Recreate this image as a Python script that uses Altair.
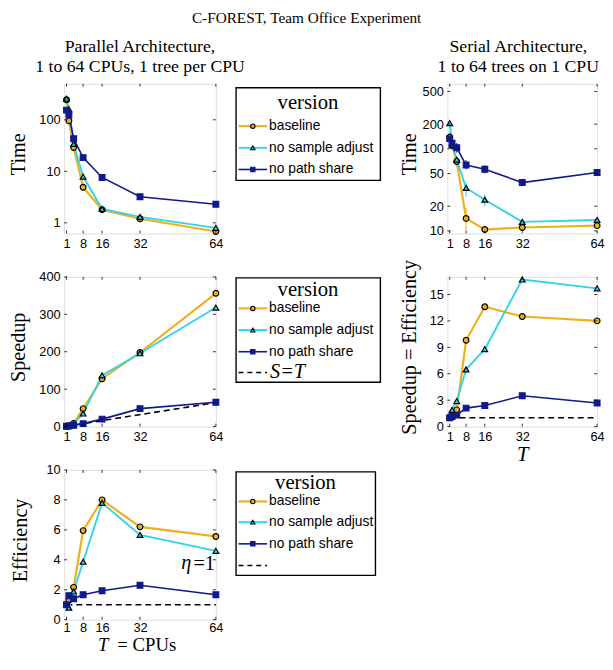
import altair as alt
import pandas as pd

SERIF = "Liberation Serif"
SANS = "Liberation Sans"

# ---------------- data ----------------
T = [1, 2, 4, 8, 16, 32, 64]
X_TICKS = [1, 8, 16, 32, 64]
SERIES = ["baseline", "no sample adjust", "no path share"]
COLORS = ["#EDB120", "#2FD4E6", "#10198C"]
EDGES = ["#000000", "#000000", "#10198C"]
SHAPES = ["circle", "triangle-up", "square"]
WIDTHS = [2.2, 1.6, 1.1]

# Parallel architecture: time
par_time_baseline = [245, 96, 29, 4.9, 1.8, 1.2, 0.68]
par_time_nsa = [257, 161, 34, 7.9, 1.86, 1.3, 0.8]
par_time_nps = [154, 124, 43, 18.4, 7.6, 3.2, 2.3]
par_lo_baseline = [220, 85, 24, 4.4, 1.7, 1.1, 0.64]
par_hi_baseline = [265, 108, 33, 5.5, 1.9, 1.3, 0.72]
par_lo_nsa = [230, 145, 28, 7.2, 1.7, 1.2, 0.75]
par_hi_nsa = [280, 180, 40, 8.8, 2.0, 1.4, 0.85]
par_lo_nps = [140, 110, 38, 16, 7.0, 2.9, 2.1]
par_hi_nps = [170, 140, 50, 21, 8.8, 3.6, 2.5]

# Serial architecture: time
ser_time_baseline = [139, 110, 70, 14.2, 10.4, 11.0, 11.6]
ser_time_nsa = [206, 112, 74, 33.4, 24, 12.9, 13.6]
ser_time_nps = [133, 117, 103, 63.5, 56.5, 38.8, 51.6]
ser_lo_baseline = [130, 95, 60, 10.3, 10.0, 10.5, 11.0]
ser_hi_baseline = [148, 120, 78, 19, 10.8, 11.5, 12.2]
ser_lo_nsa = [195, 100, 68, 26, 20, 12.3, 13.0]
ser_hi_nsa = [215, 125, 80, 39, 28, 13.5, 14.2]
ser_lo_nps = [120, 105, 90, 56, 50, 35, 48]
ser_hi_nps = [150, 130, 118, 73, 63, 43, 55]

# Speedup
par_speed_baseline = [1, 2.5, 8.7, 48, 128, 198, 356]
par_speed_nsa = [1, 1.6, 7.5, 35, 137, 196, 318]
par_speed_nps = [1, 1.3, 3.5, 8, 20, 48, 65]
ser_speed_baseline = [1, 1.3, 1.9, 9.8, 13.6, 12.5, 12.0]
ser_speed_nsa = [1, 1.9, 2.9, 6.5, 8.8, 16.7, 15.7]
ser_speed_nps = [1, 1.15, 1.3, 2.1, 2.4, 3.5, 2.67]

# Efficiency (parallel)
par_eff_baseline = [1.0, 1.3, 2.16, 5.95, 8.0, 6.2, 5.56]
par_eff_nsa = [1.0, 0.8, 1.88, 3.87, 7.8, 5.66, 4.6]
par_eff_nps = [1.0, 1.6, 1.4, 1.67, 1.93, 2.3, 1.67]

# reference lines
ideal_T = [1, 64]
ideal_speed = [1, 64]
ideal_unit = [1, 1]

W, H = 154, 152
WR = 152


def frame(values, lows=None, highs=None):
    rows = []
    for k, name in enumerate(SERIES):
        for i, t in enumerate(T):
            r = {"T": t, "value": values[k][i], "version": name}
            if lows is not None:
                r["lo"] = lows[k][i]
                r["hi"] = highs[k][i]
            rows.append(r)
    return pd.DataFrame(rows)


color_scale = alt.Scale(domain=SERIES, range=COLORS)
fill_scale = alt.Scale(domain=SERIES, range=COLORS)
edge_scale = alt.Scale(domain=SERIES, range=EDGES)
shape_scale = alt.Scale(domain=SERIES, range=SHAPES)
width_scale = alt.Scale(domain=SERIES, range=WIDTHS)
x_scale = alt.Scale(domain=[0, 64], nice=False, zero=False)


def axis(values, title=None, fmt="d", **kw):
    args = dict(values=values, format=fmt, ticks=False, domain=False, grid=False,
                labelFont=SANS, labelFontSize=13, labelColor="black", labelPadding=4,
                labelFlush=False, titleFont=SERIF, titleFontSize=20.5,
                titleFontWeight="normal", titleColor="black")
    args["title"] = title if title is not None else None
    args.update(kw)
    return alt.Axis(**args)


def panel(df, y_scale, y_ticks, y_title, y_title_x, w, h, x_title=None, err=False, extra=(),
          x_label_pad=4):
    y_axis = axis(y_ticks, y_title, titleX=y_title_x, titleY=h / 2 - 5, titleAngle=270,
                  titleAlign="center", titleBaseline="middle")
    if x_title:
        x_axis = axis(X_TICKS, x_title, titleY=28, titleBaseline="middle",
                      titleFontStyle="italic", titleFontSize=21)
    else:
        x_axis = axis(X_TICKS, labelPadding=x_label_pad)
    X = alt.X("T:Q", scale=x_scale, axis=x_axis)
    Y = alt.Y("value:Q", scale=y_scale, axis=y_axis)
    layers = []
    for lyr in extra:
        layers.append(lyr(X, Y))
    if err:
        layers.append(alt.Chart(df).mark_rule(strokeWidth=1).encode(
            x=X, y=alt.Y("lo:Q", scale=y_scale, axis=y_axis), y2="hi:Q",
            color=alt.Color("version:N", scale=color_scale, legend=None)))
    layers.append(alt.Chart(df).mark_line().encode(
        x=X, y=Y,
        color=alt.Color("version:N", scale=color_scale, legend=None),
        strokeWidth=alt.StrokeWidth("version:N", scale=width_scale, legend=None)))
    layers.append(alt.Chart(df).mark_point(filled=True, size=34, opacity=1, strokeWidth=1.2).encode(
        x=X, y=Y,
        fill=alt.Fill("version:N", scale=fill_scale, legend=None),
        stroke=alt.Stroke("version:N", scale=edge_scale, legend=None),
        shape=alt.Shape("version:N", scale=shape_scale, legend=None)))
    # inward MATLAB-style ticks
    xt = pd.DataFrame({"T": X_TICKS})
    yt = pd.DataFrame({"value": y_ticks})
    tl = 3
    layers.append(alt.Chart(xt).mark_rule(color="black", strokeWidth=0.8).encode(
        x=X, y=alt.value(0), y2=alt.value(tl)))
    layers.append(alt.Chart(xt).mark_rule(color="black", strokeWidth=0.8).encode(
        x=X, y=alt.value(h), y2=alt.value(h - tl)))
    layers.append(alt.Chart(yt).mark_rule(color="black", strokeWidth=0.8).encode(
        y=Y, x=alt.value(0), x2=alt.value(tl)))
    layers.append(alt.Chart(yt).mark_rule(color="black", strokeWidth=0.8).encode(
        y=Y, x=alt.value(w), x2=alt.value(w - tl)))
    return alt.layer(*layers).properties(width=w, height=h)


def ref_line(xs, ys):
    d = pd.DataFrame({"T": xs, "value": ys})

    def make(X, Y):
        return alt.Chart(d).mark_line(color="black", strokeDash=[6, 4], strokeWidth=1.6).encode(x=X, y=Y)
    return make


def legend_chart(box_top, box_bottom, box_w, chart_w, h, title_y, entry_ys, entry_font,
                 title_font, dashed_y=None, dashed_label=None):
    one = pd.DataFrame({"t": ["version"]})
    layers = [
        alt.Chart(one).mark_rect(fill="white", stroke="black", strokeWidth=1.4).encode(
            x=alt.value(0.5), x2=alt.value(box_w), y=alt.value(box_top), y2=alt.value(box_bottom)),
        alt.Chart(one).mark_text(font=SERIF, fontSize=title_font, baseline="middle", align="center",
                                 color="black").encode(
            x=alt.value(box_w / 2), y=alt.value(title_y), text="t:N"),
    ]
    for name, yy in zip(SERIES, entry_ys):
        d = pd.DataFrame({"version": [name]})
        layers.append(alt.Chart(d).mark_rule().encode(
            x=alt.value(3), x2=alt.value(32), y=alt.value(yy),
            color=alt.Color("version:N", scale=color_scale, legend=None),
            strokeWidth=alt.StrokeWidth("version:N", scale=width_scale, legend=None)))
        layers.append(alt.Chart(d).mark_point(filled=True, size=20, opacity=1, strokeWidth=1.1).encode(
            x=alt.value(17.5), y=alt.value(yy),
            fill=alt.Fill("version:N", scale=fill_scale, legend=None),
            stroke=alt.Stroke("version:N", scale=edge_scale, legend=None),
            shape=alt.Shape("version:N", scale=shape_scale, legend=None)))
        layers.append(alt.Chart(d).mark_text(align="left", baseline="middle", font=SANS,
                                             fontSize=entry_font, color="black").encode(
            x=alt.value(34), y=alt.value(yy), text="version:N"))
    if dashed_y is not None:
        layers.append(alt.Chart(one).mark_rule(color="black", strokeDash=[5, 4], strokeWidth=1.6).encode(
            x=alt.value(3), x2=alt.value(32), y=alt.value(dashed_y)))
        if dashed_label:
            dl = pd.DataFrame({"t": [dashed_label]})
            layers.append(alt.Chart(dl).mark_text(align="left", baseline="middle", font=SERIF,
                                                  fontSize=20.5, fontStyle="italic", color="black").encode(
                x=alt.value(35), y=alt.value(dashed_y), text="t:N"))
    return alt.layer(*layers).properties(width=chart_w, height=h,
                                         view=alt.ViewBackground(stroke="transparent"))


# ---------------- panels ----------------
df_par_time = frame([par_time_baseline, par_time_nsa, par_time_nps],
                    [par_lo_baseline, par_lo_nsa, par_lo_nps],
                    [par_hi_baseline, par_hi_nsa, par_hi_nps])
df_ser_time = frame([ser_time_baseline, ser_time_nsa, ser_time_nps],
                    [ser_lo_baseline, ser_lo_nsa, ser_lo_nps],
                    [ser_hi_baseline, ser_hi_nsa, ser_hi_nps])
df_par_speed = frame([par_speed_baseline, par_speed_nsa, par_speed_nps])
df_ser_speed = frame([ser_speed_baseline, ser_speed_nsa, ser_speed_nps])
df_par_eff = frame([par_eff_baseline, par_eff_nsa, par_eff_nps])

sub_title = dict(font=SERIF, fontSize=18, fontWeight="normal", color="black",
                 anchor="middle", lineHeight=20, offset=8)

p_time = panel(df_par_time, alt.Scale(type="log", domain=[0.62, 500], nice=False),
               [1, 10, 100], "Time", -46, W, H, err=True).properties(
    title=alt.TitleParams(["Parallel Architecture,", "1 to 64 CPUs, 1 tree per CPU"], **sub_title))
s_time = panel(df_ser_time, alt.Scale(type="log", domain=[9.3, 620], nice=False),
               [10, 20, 50, 100, 200, 500], "Time", -38, WR, H, err=True).properties(
    title=alt.TitleParams(["Serial Architecture,", "1 to 64 trees on 1 CPU"], dx=-4, **sub_title))

p_speed = panel(df_par_speed, alt.Scale(domain=[0, 400], nice=False),
                [0, 100, 200, 300, 400], "Speedup", -46, W, H,
                extra=[ref_line(ideal_T, ideal_speed)])
s_speed = panel(df_ser_speed, alt.Scale(domain=[0, 17], nice=False),
                [0, 3, 6, 9, 12, 15], "Speedup = Efficiency", -38, WR, H, x_title="T",
                extra=[ref_line(ideal_T, ideal_unit)])

eta_df = pd.DataFrame({"a": ["\u03b7"], "b": ["=1"], "c": ["T"], "d": ["= CPUs"]})


def eff_labels(X, Y):
    return alt.layer(
        alt.Chart(eta_df).mark_text(font=SERIF, fontSize=20.5, fontStyle="italic", align="right",
                                    baseline="middle", color="black").encode(
            x=alt.value(W - 25), y=alt.value(95), text="a:N"),
        alt.Chart(eta_df).mark_text(font=SERIF, fontSize=20.5, align="right",
                                    baseline="middle", color="black").encode(
            x=alt.value(W - 1), y=alt.value(96), text="b:N"),
        alt.Chart(eta_df).mark_text(font=SERIF, fontSize=19, fontStyle="italic", align="right",
                                    baseline="middle", color="black").encode(
            x=alt.value(45), y=alt.value(H + 25.5), text="c:N"),
        alt.Chart(eta_df).mark_text(font=SERIF, fontSize=19, align="left",
                                    baseline="middle", color="black").encode(
            x=alt.value(54), y=alt.value(H + 25.5), text="d:N"),
    )


p_eff = panel(df_par_eff, alt.Scale(domain=[0, 10], nice=False),
              [0, 2, 4, 6, 8, 10], "Efficiency", -44, W, H,
              extra=[ref_line(ideal_T, ideal_unit), eff_labels], x_label_pad=2)

LEG_W = 147
LEG_CW = 195
leg1 = legend_chart(4, 98, LEG_W, LEG_CW, H, 20, [43, 65, 87], 14, 21)
leg2 = legend_chart(1, 107, LEG_W, LEG_CW, H, 13, [32, 54, 76], 14, 21,
                    dashed_y=97, dashed_label="S=T")
leg3 = legend_chart(2, 107, LEG_W - 5, LEG_CW, H, 13, [32, 53, 75], 14, 21, dashed_y=97)

chart = alt.concat(p_time, leg1, s_time, p_speed, leg2, s_speed, p_eff, leg3,
                   columns=3, spacing={"row": 44, "column": 20}, bounds="flush").properties(
    title=alt.TitleParams("C-FOREST, Team Office Experiment", font=SERIF, fontSize=15.5,
                          fontWeight="normal", color="black", anchor="middle", offset=11),
    padding={"left": 0, "top": -2, "right": 0, "bottom": 0},
).configure_view(stroke="black", strokeWidth=1.4).configure(background="white")

chart.save("out.html", embed_options={"renderer": "svg", "actions": False})
